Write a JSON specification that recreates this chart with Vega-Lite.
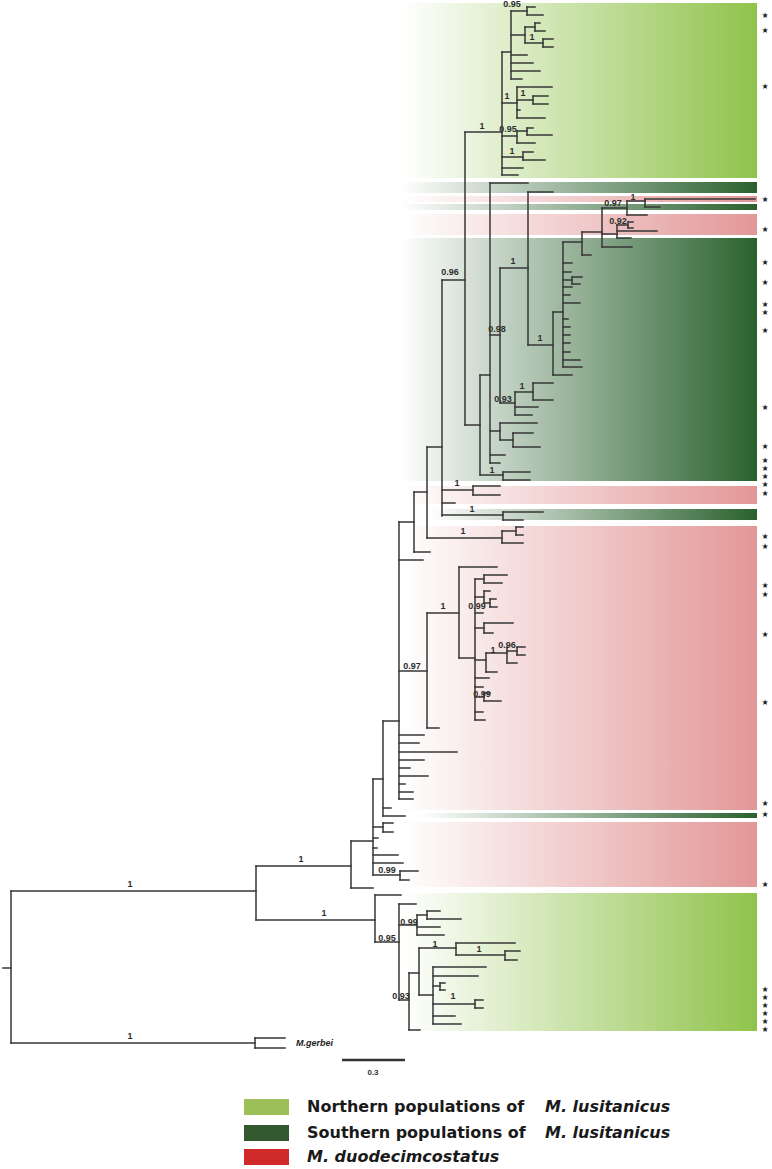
{
"$schema": "https://vega.github.io/schema/vega-lite/v6.json",
"width": 772, "height": 1169, "padding": 0, "autosize": {"type": "none"},
"background": "white",
"config": {"view": {"stroke": null}},
"datasets": {
"bands": [
{"g":"north","x":403,"x2":757,"y":3,"y2":178},
{"g":"north","x":403,"x2":757,"y":893,"y2":1031},
{"g":"south","x":400,"x2":757,"y":182,"y2":193},
{"g":"south","x":400,"x2":757,"y":204,"y2":210},
{"g":"south","x":400,"x2":757,"y":238,"y2":481},
{"g":"south","x":430,"x2":757,"y":509,"y2":520},
{"g":"south","x":420,"x2":757,"y":813,"y2":818},
{"g":"duo","x":400,"x2":757,"y":196,"y2":202},
{"g":"duo","x":400,"x2":757,"y":214,"y2":235},
{"g":"duo","x":400,"x2":757,"y":486,"y2":504},
{"g":"duo","x":400,"x2":757,"y":526,"y2":810},
{"g":"duo","x":400,"x2":757,"y":822,"y2":887}
],
"seg": [
{"x":11,"x2":11,"y":891,"y2":1043},{"x":3,"x2":11,"y":968,"y2":968},{"x":11,"x2":256,"y":891,"y2":891},{"x":11,"x2":255,"y":1043,"y2":1043},{"x":255,"x2":255,"y":1038,"y2":1048},{"x":255,"x2":285,"y":1038,"y2":1038},{"x":255,"x2":285,"y":1048,"y2":1048},
{"x":256,"x2":256,"y":866,"y2":920},{"x":256,"x2":351,"y":866,"y2":866},{"x":256,"x2":375,"y":920,"y2":920},
{"x":351,"x2":351,"y":841,"y2":888},{"x":351,"x2":373,"y":841,"y2":841},{"x":351,"x2":373,"y":888,"y2":888},
{"x":373,"x2":373,"y":779,"y2":875},{"x":373,"x2":383,"y":779,"y2":779},{"x":373,"x2":383,"y":827,"y2":827},{"x":383,"x2":383,"y":823,"y2":832},{"x":383,"x2":393,"y":823,"y2":823},{"x":383,"x2":393,"y":832,"y2":832},{"x":373,"x2":378,"y":838,"y2":838},{"x":373,"x2":377,"y":848,"y2":848},{"x":373,"x2":398,"y":855,"y2":855},{"x":373,"x2":403,"y":863,"y2":863},{"x":373,"x2":400,"y":875,"y2":875},{"x":400,"x2":400,"y":871,"y2":880},{"x":400,"x2":418,"y":871,"y2":871},{"x":400,"x2":409,"y":880,"y2":880},
{"x":383,"x2":383,"y":721,"y2":816},{"x":383,"x2":399,"y":721,"y2":721},{"x":383,"x2":391,"y":808,"y2":808},{"x":383,"x2":405,"y":816,"y2":816},
{"x":399,"x2":399,"y":522,"y2":799},{"x":399,"x2":414,"y":522,"y2":522},{"x":399,"x2":423,"y":560,"y2":560},{"x":399,"x2":427,"y":671,"y2":671},
{"x":399,"x2":424,"y":735,"y2":735},{"x":399,"x2":419,"y":743,"y2":743},{"x":399,"x2":457,"y":752,"y2":752},{"x":399,"x2":424,"y":760,"y2":760},{"x":399,"x2":410,"y":768,"y2":768},{"x":399,"x2":428,"y":776,"y2":776},{"x":399,"x2":405,"y":784,"y2":784},{"x":399,"x2":413,"y":792,"y2":792},{"x":399,"x2":413,"y":799,"y2":799},
{"x":427,"x2":427,"y":613,"y2":728},{"x":427,"x2":459,"y":613,"y2":613},{"x":427,"x2":439,"y":728,"y2":728},
{"x":459,"x2":459,"y":567,"y2":658},{"x":459,"x2":497,"y":567,"y2":567},{"x":459,"x2":475,"y":658,"y2":658},
{"x":475,"x2":475,"y":579,"y2":720},{"x":475,"x2":484,"y":579,"y2":579},{"x":484,"x2":484,"y":575,"y2":583},{"x":484,"x2":507,"y":575,"y2":575},{"x":484,"x2":502,"y":583,"y2":583},
{"x":475,"x2":484,"y":597,"y2":597},{"x":484,"x2":484,"y":591,"y2":603},{"x":484,"x2":490,"y":591,"y2":591},{"x":484,"x2":490,"y":603,"y2":603},{"x":490,"x2":490,"y":599,"y2":607},{"x":490,"x2":496,"y":599,"y2":599},{"x":490,"x2":497,"y":607,"y2":607},
{"x":475,"x2":483,"y":613,"y2":613},
{"x":475,"x2":484,"y":628,"y2":628},{"x":484,"x2":484,"y":623,"y2":633},{"x":484,"x2":513,"y":623,"y2":623},{"x":484,"x2":493,"y":633,"y2":633},
{"x":475,"x2":486,"y":660,"y2":660},{"x":486,"x2":486,"y":653,"y2":672},{"x":486,"x2":507,"y":653,"y2":653},{"x":507,"x2":507,"y":647,"y2":663},{"x":507,"x2":517,"y":651,"y2":651},{"x":517,"x2":517,"y":647,"y2":655},{"x":517,"x2":525,"y":647,"y2":647},{"x":517,"x2":525,"y":655,"y2":655},{"x":507,"x2":517,"y":663,"y2":663},{"x":486,"x2":497,"y":672,"y2":672},
{"x":475,"x2":489,"y":678,"y2":678},{"x":475,"x2":483,"y":687,"y2":687},
{"x":475,"x2":484,"y":697,"y2":697},{"x":484,"x2":484,"y":693,"y2":701},{"x":484,"x2":490,"y":693,"y2":693},{"x":484,"x2":501,"y":701,"y2":701},
{"x":475,"x2":483,"y":712,"y2":712},{"x":475,"x2":485,"y":720,"y2":720},
{"x":414,"x2":414,"y":492,"y2":552},{"x":414,"x2":427,"y":492,"y2":492},{"x":414,"x2":430,"y":552,"y2":552},
{"x":427,"x2":427,"y":447,"y2":538},{"x":427,"x2":442,"y":447,"y2":447},{"x":427,"x2":502,"y":538,"y2":538},
{"x":502,"x2":502,"y":531,"y2":543},{"x":502,"x2":516,"y":531,"y2":531},{"x":516,"x2":516,"y":527,"y2":535},{"x":516,"x2":523,"y":527,"y2":527},{"x":516,"x2":523,"y":535,"y2":535},{"x":502,"x2":523,"y":543,"y2":543},
{"x":442,"x2":442,"y":280,"y2":516},{"x":442,"x2":465,"y":280,"y2":280},{"x":442,"x2":473,"y":490,"y2":490},{"x":442,"x2":455,"y":503,"y2":503},{"x":442,"x2":503,"y":515,"y2":515},
{"x":473,"x2":473,"y":486,"y2":495},{"x":473,"x2":500,"y":486,"y2":486},{"x":473,"x2":500,"y":495,"y2":495},
{"x":503,"x2":503,"y":512,"y2":520},{"x":503,"x2":543,"y":512,"y2":512},{"x":503,"x2":523,"y":520,"y2":520},
{"x":465,"x2":465,"y":132,"y2":425},{"x":465,"x2":502,"y":132,"y2":132},{"x":465,"x2":480,"y":425,"y2":425},
{"x":480,"x2":480,"y":375,"y2":475},{"x":480,"x2":490,"y":375,"y2":375},{"x":480,"x2":503,"y":475,"y2":475},{"x":503,"x2":503,"y":472,"y2":480},{"x":503,"x2":530,"y":472,"y2":472},{"x":503,"x2":530,"y":480,"y2":480},
{"x":490,"x2":490,"y":183,"y2":463},{"x":490,"x2":528,"y":183,"y2":183},{"x":490,"x2":500,"y":335,"y2":335},{"x":490,"x2":500,"y":431,"y2":431},{"x":490,"x2":505,"y":455,"y2":455},{"x":490,"x2":500,"y":463,"y2":463},
{"x":500,"x2":500,"y":423,"y2":440},{"x":500,"x2":537,"y":423,"y2":423},{"x":500,"x2":513,"y":440,"y2":440},{"x":513,"x2":513,"y":433,"y2":447},{"x":513,"x2":533,"y":433,"y2":433},{"x":513,"x2":540,"y":447,"y2":447},
{"x":500,"x2":500,"y":268,"y2":403},{"x":500,"x2":528,"y":268,"y2":268},{"x":500,"x2":515,"y":403,"y2":403},
{"x":528,"x2":528,"y":192,"y2":345},{"x":528,"x2":553,"y":192,"y2":192},{"x":528,"x2":553,"y":345,"y2":345},
{"x":553,"x2":553,"y":312,"y2":375},{"x":553,"x2":563,"y":312,"y2":312},{"x":553,"x2":572,"y":375,"y2":375},
{"x":563,"x2":563,"y":242,"y2":367},{"x":563,"x2":582,"y":242,"y2":242},
{"x":563,"x2":572,"y":263,"y2":263},{"x":563,"x2":571,"y":272,"y2":272},{"x":563,"x2":572,"y":280,"y2":280},{"x":572,"x2":572,"y":277,"y2":284},{"x":572,"x2":582,"y":277,"y2":277},{"x":572,"x2":580,"y":284,"y2":284},{"x":563,"x2":572,"y":287,"y2":287},{"x":563,"x2":570,"y":295,"y2":295},{"x":563,"x2":580,"y":303,"y2":303},{"x":563,"x2":568,"y":319,"y2":319},{"x":563,"x2":570,"y":327,"y2":327},{"x":563,"x2":570,"y":335,"y2":335},{"x":563,"x2":570,"y":343,"y2":343},{"x":563,"x2":570,"y":352,"y2":352},{"x":563,"x2":580,"y":360,"y2":360},{"x":563,"x2":582,"y":367,"y2":367},
{"x":582,"x2":582,"y":232,"y2":255},{"x":582,"x2":602,"y":232,"y2":232},{"x":582,"x2":591,"y":255,"y2":255},
{"x":602,"x2":602,"y":208,"y2":247},{"x":602,"x2":627,"y":208,"y2":208},{"x":602,"x2":617,"y":234,"y2":234},{"x":602,"x2":632,"y":247,"y2":247},
{"x":627,"x2":627,"y":201,"y2":215},{"x":627,"x2":645,"y":201,"y2":201},{"x":627,"x2":647,"y":215,"y2":215},
{"x":645,"x2":645,"y":199,"y2":207},{"x":645,"x2":755,"y":199,"y2":199},{"x":645,"x2":660,"y":207,"y2":207},
{"x":617,"x2":617,"y":225,"y2":238},{"x":617,"x2":628,"y":225,"y2":225},{"x":628,"x2":628,"y":222,"y2":228},{"x":628,"x2":633,"y":222,"y2":222},{"x":628,"x2":633,"y":228,"y2":228},{"x":617,"x2":657,"y":231,"y2":231},{"x":617,"x2":631,"y":238,"y2":238},
{"x":515,"x2":515,"y":392,"y2":415},{"x":515,"x2":533,"y":392,"y2":392},{"x":515,"x2":538,"y":407,"y2":407},{"x":515,"x2":532,"y":415,"y2":415},
{"x":533,"x2":533,"y":383,"y2":400},{"x":533,"x2":553,"y":383,"y2":383},{"x":533,"x2":553,"y":400,"y2":400},
{"x":502,"x2":502,"y":52,"y2":175},{"x":502,"x2":511,"y":52,"y2":52},{"x":502,"x2":517,"y":103,"y2":103},{"x":502,"x2":517,"y":136,"y2":136},{"x":502,"x2":523,"y":157,"y2":157},{"x":502,"x2":523,"y":168,"y2":168},{"x":502,"x2":518,"y":175,"y2":175},
{"x":511,"x2":511,"y":11,"y2":79},{"x":511,"x2":527,"y":11,"y2":11},{"x":511,"x2":525,"y":35,"y2":35},{"x":511,"x2":527,"y":55,"y2":55},{"x":511,"x2":533,"y":63,"y2":63},{"x":511,"x2":540,"y":71,"y2":71},{"x":511,"x2":522,"y":79,"y2":79},
{"x":527,"x2":527,"y":7,"y2":15},{"x":527,"x2":535,"y":7,"y2":7},{"x":527,"x2":543,"y":15,"y2":15},
{"x":525,"x2":525,"y":27,"y2":43},{"x":525,"x2":535,"y":27,"y2":27},{"x":535,"x2":535,"y":23,"y2":31},{"x":535,"x2":540,"y":23,"y2":23},{"x":535,"x2":545,"y":31,"y2":31},{"x":525,"x2":543,"y":43,"y2":43},{"x":543,"x2":543,"y":39,"y2":47},{"x":543,"x2":553,"y":39,"y2":39},{"x":543,"x2":553,"y":47,"y2":47},
{"x":517,"x2":517,"y":87,"y2":118},{"x":517,"x2":552,"y":87,"y2":87},{"x":517,"x2":533,"y":100,"y2":100},{"x":533,"x2":533,"y":96,"y2":104},{"x":533,"x2":548,"y":96,"y2":96},{"x":533,"x2":548,"y":104,"y2":104},{"x":517,"x2":520,"y":110,"y2":110},{"x":517,"x2":545,"y":118,"y2":118},
{"x":517,"x2":517,"y":131,"y2":143},{"x":517,"x2":527,"y":131,"y2":131},{"x":527,"x2":527,"y":128,"y2":135},{"x":527,"x2":533,"y":128,"y2":128},{"x":527,"x2":552,"y":135,"y2":135},{"x":517,"x2":535,"y":143,"y2":143},
{"x":523,"x2":523,"y":152,"y2":160},{"x":523,"x2":533,"y":152,"y2":152},{"x":523,"x2":545,"y":160,"y2":160},
{"x":375,"x2":375,"y":895,"y2":942},{"x":375,"x2":401,"y":895,"y2":895},{"x":375,"x2":399,"y":942,"y2":942},
{"x":399,"x2":399,"y":904,"y2":1000},{"x":399,"x2":416,"y":904,"y2":904},{"x":399,"x2":417,"y":925,"y2":925},{"x":399,"x2":409,"y":1000,"y2":1000},
{"x":417,"x2":417,"y":915,"y2":935},{"x":417,"x2":427,"y":915,"y2":915},{"x":427,"x2":427,"y":911,"y2":919},{"x":427,"x2":440,"y":911,"y2":911},{"x":427,"x2":461,"y":919,"y2":919},{"x":417,"x2":440,"y":927,"y2":927},{"x":417,"x2":444,"y":935,"y2":935},
{"x":409,"x2":409,"y":973,"y2":1030},{"x":409,"x2":419,"y":973,"y2":973},{"x":409,"x2":420,"y":1030,"y2":1030},
{"x":419,"x2":419,"y":948,"y2":995},{"x":419,"x2":456,"y":948,"y2":948},{"x":419,"x2":433,"y":995,"y2":995},
{"x":456,"x2":456,"y":943,"y2":955},{"x":456,"x2":515,"y":943,"y2":943},{"x":456,"x2":505,"y":955,"y2":955},{"x":505,"x2":505,"y":951,"y2":960},{"x":505,"x2":520,"y":951,"y2":951},{"x":505,"x2":517,"y":960,"y2":960},
{"x":433,"x2":433,"y":967,"y2":1024},{"x":433,"x2":486,"y":967,"y2":967},{"x":433,"x2":478,"y":976,"y2":976},{"x":433,"x2":440,"y":986,"y2":986},{"x":440,"x2":440,"y":983,"y2":990},{"x":440,"x2":445,"y":983,"y2":983},{"x":440,"x2":445,"y":990,"y2":990},{"x":433,"x2":475,"y":1004,"y2":1004},{"x":475,"x2":475,"y":1000,"y2":1008},{"x":475,"x2":483,"y":1000,"y2":1000},{"x":475,"x2":483,"y":1008,"y2":1008},{"x":433,"x2":455,"y":1016,"y2":1016},{"x":433,"x2":461,"y":1024,"y2":1024}
],
"bar": [{"x":342,"x2":405,"y":1060,"y2":1060}],
"sup": [
{"t":"0.95","x":512,"y":4},{"t":"1","x":532,"y":37},{"t":"1","x":507,"y":96},{"t":"1","x":523,"y":93},{"t":"0.95","x":508,"y":129},{"t":"1","x":512,"y":151},{"t":"1","x":482,"y":126},
{"t":"0.96","x":450,"y":272},{"t":"1","x":513,"y":261},{"t":"0.97","x":613,"y":203},{"t":"1","x":633,"y":197},{"t":"0.92","x":618,"y":221},{"t":"0.98","x":497,"y":329},{"t":"1","x":540,"y":338},{"t":"0.93","x":503,"y":399},{"t":"1","x":522,"y":386},{"t":"1","x":492,"y":470},{"t":"1","x":457,"y":483},{"t":"1","x":472,"y":509},{"t":"1","x":463,"y":531},
{"t":"1","x":443,"y":606},{"t":"0.99","x":477,"y":606},{"t":"1","x":493,"y":650},{"t":"0.96","x":507,"y":645},{"t":"0.99","x":482,"y":694},{"t":"0.97","x":412,"y":666},{"t":"0.99","x":387,"y":870},
{"t":"1","x":301,"y":859},{"t":"1","x":130,"y":884},{"t":"1","x":324,"y":913},{"t":"1","x":130,"y":1036},
{"t":"0.99","x":409,"y":922},{"t":"0.95","x":387,"y":938},{"t":"1","x":435,"y":944},{"t":"1","x":479,"y":949},{"t":"0.93","x":401,"y":996},{"t":"1","x":453,"y":996}
],
"stars": [
{"x":765,"y":16},{"x":765,"y":31},{"x":765,"y":87},{"x":765,"y":200},{"x":765,"y":230},{"x":765,"y":263},{"x":765,"y":283},{"x":765,"y":305},{"x":765,"y":313},{"x":765,"y":331},{"x":765,"y":408},{"x":765,"y":447},{"x":765,"y":461},{"x":765,"y":469},{"x":765,"y":477},{"x":765,"y":485},{"x":765,"y":494},{"x":765,"y":537},{"x":765,"y":547},{"x":765,"y":586},{"x":765,"y":595},{"x":765,"y":635},{"x":765,"y":703},{"x":765,"y":804},{"x":765,"y":815},{"x":765,"y":885},{"x":765,"y":990},{"x":765,"y":998},{"x":765,"y":1006},{"x":765,"y":1014},{"x":765,"y":1022},{"x":765,"y":1030}
],
"taxon": [{"t":"M.gerbei","x":296,"y":1043}],
"scalelab": [{"t":"0.3","x":373,"y":1073}],
"legbox": [
{"g":"Northern","x":244,"x2":289,"y":1099,"y2":1115},
{"g":"Southern","x":244,"x2":289,"y":1125,"y2":1141},
{"g":"duodecimcostatus","x":244,"x2":289,"y":1149,"y2":1165}
],
"legtext": [
{"t":"Northern populations of","x":307,"y":1107},
{"t":"Southern populations of","x":307,"y":1133}
],
"legital": [
{"t":"M. lusitanicus","x":545,"y":1107},
{"t":"M. lusitanicus","x":545,"y":1133},
{"t":"M. duodecimcostatus","x":307,"y":1157}
]
},
"layer": [
{"data":{"name":"bands"},"transform":[{"filter":"datum.g === 'north'"}],
 "mark":{"type":"rect","fill":{"gradient":"linear","x1":0,"x2":1,"y1":0,"y2":0,"stops":[{"offset":0,"color":"#ffffff"},{"offset":1,"color":"#90c34b"}]}},
 "encoding":{"x":{"field":"x","type":"quantitative","scale":{"domain":[0,772],"nice":false,"zero":false},"axis":null},"x2":{"field":"x2"},
  "y":{"field":"y","type":"quantitative","scale":{"domain":[0,1169],"reverse":true,"nice":false,"zero":false},"axis":null},"y2":{"field":"y2"}}},
{"data":{"name":"bands"},"transform":[{"filter":"datum.g === 'south'"}],
 "mark":{"type":"rect","fill":{"gradient":"linear","x1":0,"x2":1,"y1":0,"y2":0,"stops":[{"offset":0,"color":"#ffffff"},{"offset":1,"color":"#2a612e"}]}},
 "encoding":{"x":{"field":"x","type":"quantitative","scale":{"domain":[0,772],"nice":false,"zero":false},"axis":null},"x2":{"field":"x2"},
  "y":{"field":"y","type":"quantitative","scale":{"domain":[0,1169],"reverse":true,"nice":false,"zero":false},"axis":null},"y2":{"field":"y2"}}},
{"data":{"name":"bands"},"transform":[{"filter":"datum.g === 'duo'"}],
 "mark":{"type":"rect","fill":{"gradient":"linear","x1":0,"x2":1,"y1":0,"y2":0,"stops":[{"offset":0,"color":"#ffffff"},{"offset":1,"color":"#e29797"}]}},
 "encoding":{"x":{"field":"x","type":"quantitative","scale":{"domain":[0,772],"nice":false,"zero":false},"axis":null},"x2":{"field":"x2"},
  "y":{"field":"y","type":"quantitative","scale":{"domain":[0,1169],"reverse":true,"nice":false,"zero":false},"axis":null},"y2":{"field":"y2"}}},
{"data":{"name":"seg"},
 "mark":{"type":"rule","color":"#363636","strokeWidth":1.5,"strokeCap":"square"},
 "encoding":{"x":{"field":"x","type":"quantitative","scale":{"domain":[0,772],"nice":false,"zero":false},"axis":null},"x2":{"field":"x2"},
  "y":{"field":"y","type":"quantitative","scale":{"domain":[0,1169],"reverse":true,"nice":false,"zero":false},"axis":null},"y2":{"field":"y2"}}},
{"data":{"name":"bar"},
 "mark":{"type":"rule","color":"#333333","strokeWidth":2.5},
 "encoding":{"x":{"field":"x","type":"quantitative","scale":{"domain":[0,772],"nice":false,"zero":false},"axis":null},"x2":{"field":"x2"},
  "y":{"field":"y","type":"quantitative","scale":{"domain":[0,1169],"reverse":true,"nice":false,"zero":false},"axis":null},"y2":{"field":"y2"}}},
{"data":{"name":"sup"},
 "mark":{"type":"text","font":"Liberation Sans","fontSize":9,"fontWeight":"bold","color":"#2e2e2e","align":"center","baseline":"middle"},
 "encoding":{"x":{"field":"x","type":"quantitative","scale":{"domain":[0,772],"nice":false,"zero":false},"axis":null},
  "y":{"field":"y","type":"quantitative","scale":{"domain":[0,1169],"reverse":true,"nice":false,"zero":false},"axis":null},"text":{"field":"t"}}},
{"data":{"name":"stars"},
 "mark":{"type":"text","text":"★","font":"DejaVu Sans","fontSize":8,"color":"#1e1e1e","align":"center","baseline":"middle"},
 "encoding":{"x":{"field":"x","type":"quantitative","scale":{"domain":[0,772],"nice":false,"zero":false},"axis":null},
  "y":{"field":"y","type":"quantitative","scale":{"domain":[0,1169],"reverse":true,"nice":false,"zero":false},"axis":null}}},
{"data":{"name":"taxon"},
 "mark":{"type":"text","font":"Liberation Sans","fontSize":9,"fontWeight":"bold","fontStyle":"italic","color":"#222222","align":"left","baseline":"middle"},
 "encoding":{"x":{"field":"x","type":"quantitative","scale":{"domain":[0,772],"nice":false,"zero":false},"axis":null},
  "y":{"field":"y","type":"quantitative","scale":{"domain":[0,1169],"reverse":true,"nice":false,"zero":false},"axis":null},"text":{"field":"t"}}},
{"data":{"name":"scalelab"},
 "mark":{"type":"text","font":"Liberation Sans","fontSize":8,"fontWeight":"bold","color":"#333333","align":"center","baseline":"middle"},
 "encoding":{"x":{"field":"x","type":"quantitative","scale":{"domain":[0,772],"nice":false,"zero":false},"axis":null},
  "y":{"field":"y","type":"quantitative","scale":{"domain":[0,1169],"reverse":true,"nice":false,"zero":false},"axis":null},"text":{"field":"t"}}},
{"data":{"name":"legbox"},
 "mark":{"type":"rect"},
 "encoding":{"x":{"field":"x","type":"quantitative","scale":{"domain":[0,772],"nice":false,"zero":false},"axis":null},"x2":{"field":"x2"},
  "y":{"field":"y","type":"quantitative","scale":{"domain":[0,1169],"reverse":true,"nice":false,"zero":false},"axis":null},"y2":{"field":"y2"},
  "color":{"field":"g","type":"nominal","scale":{"domain":["Northern","Southern","duodecimcostatus"],"range":["#9cbf58","#34582f","#d12a2a"]},"legend":null}}},
{"data":{"name":"legtext"},
 "mark":{"type":"text","font":"DejaVu Sans","fontSize":16,"fontWeight":"bold","color":"#1a1a1a","align":"left","baseline":"middle"},
 "encoding":{"x":{"field":"x","type":"quantitative","scale":{"domain":[0,772],"nice":false,"zero":false},"axis":null},
  "y":{"field":"y","type":"quantitative","scale":{"domain":[0,1169],"reverse":true,"nice":false,"zero":false},"axis":null},"text":{"field":"t"}}},
{"data":{"name":"legital"},
 "mark":{"type":"text","font":"DejaVu Sans","fontSize":16,"fontWeight":"bold","fontStyle":"italic","color":"#1a1a1a","align":"left","baseline":"middle"},
 "encoding":{"x":{"field":"x","type":"quantitative","scale":{"domain":[0,772],"nice":false,"zero":false},"axis":null},
  "y":{"field":"y","type":"quantitative","scale":{"domain":[0,1169],"reverse":true,"nice":false,"zero":false},"axis":null},"text":{"field":"t"}}}
]
}
